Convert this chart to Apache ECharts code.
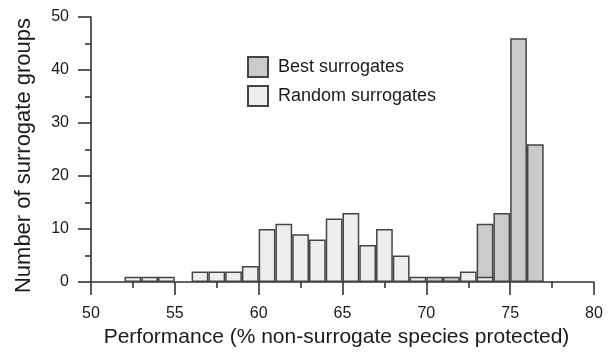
<!DOCTYPE html>
<html>
<head>
<meta charset="utf-8">
<script src="https://cdn.jsdelivr.net/npm/echarts@6/dist/echarts.min.js"></script>
<style>
html,body{margin:0;padding:0;background:#fff;}
#c{width:610px;height:354px;}
</style>
</head>
<body>
<div id="c"></div>
<script>
// bin start values (% non-surrogate species protected), bins of width 1
var binStarts = [50,51,52,53,54,55,56,57,58,59,60,61,62,63,64,65,66,67,68,69,70,71,72,73,74,75,76,77,78,79];
var randomCounts = [0,0,1,1,1,0,2,2,2,3,10,11,9,8,12,13,7,10,5,1,0,0,2,1,0,0,0,0,0,0];
var bestCounts   = [0,0,0,0,0,0,0,0,0,0,0,0,0,0,0,0,0,0,0,0,1,1,0,11,13,46,26,0,0,0];
var seriesNames = ['Best surrogates', 'Random surrogates'];
var xTitle = 'Performance (% non-surrogate species protected)';
var yTitle = 'Number of surrogate groups';

var font = 'Liberation Sans, Arial, Helvetica, sans-serif';
function nz(a){ return a.map(function(v){ return v === 0 ? null : v; }); }

var chart = echarts.init(document.getElementById('c'), null, {renderer:'canvas'});
var axisCol = '#333333';
var txtCol = '#1a1a1a';
chart.setOption({
  animation: false,
  backgroundColor: '#ffffff',
  grid: {left: 91, right: 16, top: 17, bottom: 72},
  legend: {
    orient: 'vertical', left: 242, top: 51,
    itemWidth: 20, itemHeight: 20, itemGap: 7,
    data: seriesNames,
    textStyle: {fontFamily: font, fontSize: 18, color: txtCol, padding: [0,0,0,5]},
    icon: 'rect'
  },
  xAxis: [
    {type: 'category', data: binStarts, show: false, boundaryGap: true,
     axisLine: {onZero: false}},
    {type: 'value', min: 50, max: 80, interval: 5, position: 'bottom',
     axisLine: {show: true, onZero: false, lineStyle: {color: axisCol, width: 1.6}},
     axisTick: {show: true, length: 13, lineStyle: {color: axisCol, width: 1.6}},
     minorTick: {show: true, splitNumber: 2, length: 6, lineStyle: {color: axisCol, width: 1.6}},
     splitLine: {show: false},
     axisLabel: {fontFamily: font, fontSize: 16, color: txtCol, margin: 24},
     name: xTitle, nameLocation: 'middle', nameGap: 45,
     nameTextStyle: {fontFamily: font, fontSize: 21, color: txtCol, padding: [0,12,0,0]}}
  ],
  yAxis: {
    type: 'value', min: 0, max: 50, interval: 10,
    axisLine: {show: true, onZero: false, lineStyle: {color: axisCol, width: 1.6}},
    axisTick: {show: true, length: 13, lineStyle: {color: axisCol, width: 1.6}},
    minorTick: {show: true, splitNumber: 2, length: 6, lineStyle: {color: axisCol, width: 1.6}},
    splitLine: {show: false},
    axisLabel: {fontFamily: font, fontSize: 16, color: txtCol, margin: 22},
    name: yTitle, nameLocation: 'middle', nameGap: 56, nameRotate: 90,
    nameTextStyle: {fontFamily: font, fontSize: 22, color: txtCol, padding: [0,12,0,0]}
  },
  series: [
    {name: seriesNames[0], type: 'bar', xAxisIndex: 0, data: nz(bestCounts),
     barWidth: '100%', barGap: '-100%',
     itemStyle: {color: '#cbcbcb', borderColor: '#444444', borderWidth: 1.5}},
    {name: seriesNames[1], type: 'bar', xAxisIndex: 0, data: nz(randomCounts),
     barWidth: '100%', barGap: '-100%',
     itemStyle: {color: '#eeeeee', borderColor: '#444444', borderWidth: 1.5}}
  ]
});
</script>
</body>
</html>
